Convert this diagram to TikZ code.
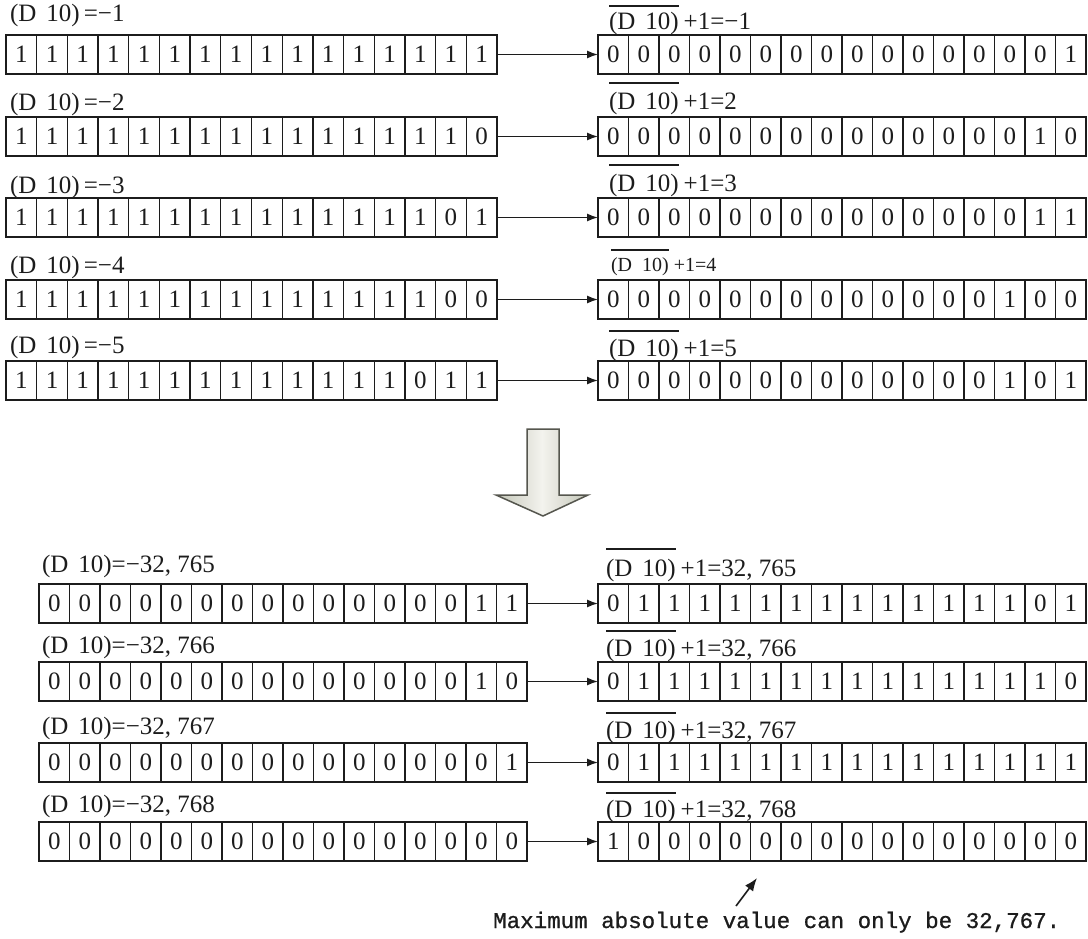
\documentclass[tikz,border=0pt]{standalone}
\usepackage{fontspec}
\setmainfont{Liberation Serif}
\newfontfamily\notefont[FakeBold=0.8]{Liberation Mono}
\usetikzlibrary{arrows.meta,calc}
\definecolor{ink}{HTML}{1C1C1C}
\definecolor{arrowedge}{HTML}{55564E}
\definecolor{arrowdark}{HTML}{C4C6B8}
\definecolor{arrowlight}{HTML}{F3F3EE}
\newcommand\dgap{\hspace{10pt}}
% name, x left, y top, width, bits
\newcommand\bitreg[5]{%
  \node[regbox, minimum width=#4pt, anchor=north west] (#1) at (#2,#3) {};
  \foreach \bv [count=\kk] in {#5} {
    \node[bitnum] (#1-\kk) at ($(#1.west)+({(\kk-0.5)*#4/16},0)$) {\bv};
  }
  \foreach \kk in {1,...,15} {
    \draw[cellsep] ($(#1.north west)+({\kk*#4/16},0)$) -- ($(#1.south west)+({\kk*#4/16},0)$);
  }
}
\newcommand\leftlbl[4]{\node[lbl, anchor=base west] (#1) at (#2,#3) {#4};}
% name, x, base y, overline y, value, style
\newcommand\rightlbl[6]{%
  \node[#6, anchor=base west] (#1p) at (#2,#3) {(D\dgap 10)};
  \node[#6, anchor=base west] (#1s) at ([xshift=5pt]#1p.base east) {+1=#5};
  \draw[ovl] (#1p.west |- 0,#4) -- (#1p.east |- 0,#4);
}
\begin{document}
\begin{tikzpicture}[x=1pt,y=-1pt,
  regbox/.style={draw=ink, line width=1.6pt, minimum height=39pt, inner sep=0pt, outer sep=0pt},
  cellsep/.style={draw=ink, line width=1.3pt},
  bitnum/.style={font=\fontsize{25}{25}\selectfont, text=ink, inner sep=0pt},
  lbl/.style={font=\fontsize{25}{25}\selectfont, text=ink, inner sep=0pt, outer sep=0pt},
  lblsmall/.style={font=\fontsize{20}{20}\selectfont, text=ink, inner sep=0pt, outer sep=0pt},
  ovl/.style={draw=ink, line width=1.2pt},
  conn/.style={draw=ink, line width=1.3pt, -{Latex[length=11pt,width=8pt]}},
  pointer/.style={draw=ink, line width=1.6pt, -{Latex[length=13pt,width=10pt]}},
  bigarrow/.style={draw=arrowedge, line width=1.5pt, left color=arrowdark, right color=arrowdark, middle color=arrowlight},
  notetext/.style={font=\notefont\fontsize{22.5}{22.5}\selectfont, text=ink, inner sep=0pt}
]
\fill[white] (0,0) rectangle (1088,939);
\useasboundingbox (0,0) rectangle (1088,939);

% ---------- top section ----------
\leftlbl{la}{10}{22}{(D\dgap 10)\,=−1}
\bitreg{L1}{6}{35}{491}{1,1,1,1,1,1,1,1,1,1,1,1,1,1,1,1}
\rightlbl{ra}{609}{30}{6}{−1}{lbl}
\bitreg{R1}{598}{35}{488}{0,0,0,0,0,0,0,0,0,0,0,0,0,0,0,1}
\draw[conn] (L1.east) -- (R1.west);

\leftlbl{lb}{10}{111}{(D\dgap 10)\,=−2}
\bitreg{L2}{6}{117}{491}{1,1,1,1,1,1,1,1,1,1,1,1,1,1,1,0}
\rightlbl{rb}{609}{110}{83}{2}{lbl}
\bitreg{R2}{598}{117}{488}{0,0,0,0,0,0,0,0,0,0,0,0,0,0,1,0}
\draw[conn] (L2.east) -- (R2.west);

\leftlbl{lc}{10}{194}{(D\dgap 10)\,=−3}
\bitreg{L3}{6}{198}{491}{1,1,1,1,1,1,1,1,1,1,1,1,1,1,0,1}
\rightlbl{rc}{609}{192}{165}{3}{lbl}
\bitreg{R3}{598}{198}{488}{0,0,0,0,0,0,0,0,0,0,0,0,0,0,1,1}
\draw[conn] (L3.east) -- (R3.west);

\leftlbl{ld}{10}{273}{(D\dgap 10)\,=−4}
\bitreg{L4}{6}{280}{491}{1,1,1,1,1,1,1,1,1,1,1,1,1,1,0,0}
\rightlbl{rd}{611}{272}{250}{4}{lblsmall}
\bitreg{R4}{598}{280}{488}{0,0,0,0,0,0,0,0,0,0,0,0,0,1,0,0}
\draw[conn] (L4.east) -- (R4.west);

\leftlbl{le}{10}{353}{(D\dgap 10)\,=−5}
\bitreg{L5}{6}{361}{491}{1,1,1,1,1,1,1,1,1,1,1,1,1,0,1,1}
\rightlbl{re}{609}{356}{331}{5}{lbl}
\bitreg{R5}{598}{361}{488}{0,0,0,0,0,0,0,0,0,0,0,0,0,1,0,1}
\draw[conn] (L5.east) -- (R5.west);

% ---------- big arrow ----------
\path[bigarrow] (527,429) -- (559,429) -- (559,495) -- (588,495) -- (543,516)
  -- (496,495) -- (527,495) -- cycle;

% ---------- bottom section ----------
\leftlbl{lf}{42}{572}{(D\dgap 10)=−32, 765}
\bitreg{L6}{39}{584}{488}{0,0,0,0,0,0,0,0,0,0,0,0,0,0,1,1}
\rightlbl{rf}{606}{576}{549}{32, 765}{lbl}
\bitreg{R6}{598}{584}{488}{0,1,1,1,1,1,1,1,1,1,1,1,1,1,0,1}
\draw[conn] (L6.east) -- (R6.west);

\leftlbl{lg}{42}{653}{(D\dgap 10)=−32, 766}
\bitreg{L7}{39}{662}{488}{0,0,0,0,0,0,0,0,0,0,0,0,0,0,1,0}
\rightlbl{rg}{606}{656}{631}{32, 766}{lbl}
\bitreg{R7}{598}{662}{488}{0,1,1,1,1,1,1,1,1,1,1,1,1,1,1,0}
\draw[conn] (L7.east) -- (R7.west);

\leftlbl{lh}{42}{734}{(D\dgap 10)=−32, 767}
\bitreg{L8}{39}{743}{488}{0,0,0,0,0,0,0,0,0,0,0,0,0,0,0,1}
\rightlbl{rh}{606}{738}{713}{32, 767}{lbl}
\bitreg{R8}{598}{743}{488}{0,1,1,1,1,1,1,1,1,1,1,1,1,1,1,1}
\draw[conn] (L8.east) -- (R8.west);

\leftlbl{li}{42}{812}{(D\dgap 10)=−32, 768}
\bitreg{L9}{39}{822}{488}{0,0,0,0,0,0,0,0,0,0,0,0,0,0,0,0}
\rightlbl{ri}{606}{817}{793}{32, 768}{lbl}
\bitreg{R9}{598}{822}{488}{1,0,0,0,0,0,0,0,0,0,0,0,0,0,0,0}
\draw[conn] (L9.east) -- (R9.west);

% ---------- note ----------
\node[notetext, anchor=base west] (note) at (493,928) {Maximum absolute value can only be 32,767.};
\coordinate (ptail) at (736,906);
\coordinate (ptip) at (757,878);
\draw[pointer] (ptail) -- (ptip);
\end{tikzpicture}
\end{document}
